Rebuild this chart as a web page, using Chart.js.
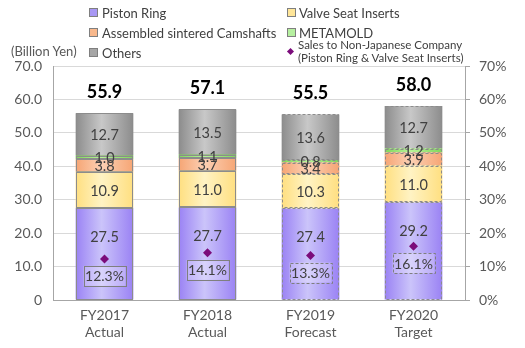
<!DOCTYPE html>
<html>
<head>
<meta charset="utf-8">
<script src="https://cdn.jsdelivr.net/npm/chart.js@4"></script>
<style>
  body { margin: 0; background: #fff; }
  #wrap { position: relative; width: 525px; height: 348px; font-family: Lato, "Open Sans", sans-serif; color: #404040; }
  #wrap canvas { position: absolute; left: 0; top: 0; }
  .lg { position: absolute; font-size: 13px; white-space: nowrap; line-height: 18px; }
  .sq { position: absolute; width: 7px; height: 7px; border: 1px solid #7f7f7f; }
  .unit { position: absolute; left: 11px; top: 43px; font-size: 13px; color: #595959; }
  .small { position: absolute; font-size: 11.5px; line-height: 13px; white-space: nowrap; }
</style>
</head>
<body>
<div id="wrap">
  <canvas id="chart" width="525" height="348"></canvas>
  <div class="unit">(Billion Yen)</div>

  <div class="sq" style="left:89px; top:8px; background:#a898f4;"></div>
  <div class="lg" style="left:102px; top:4px;">Piston Ring</div>
  <div class="sq" style="left:89px; top:28px; background:#f8b88c;"></div>
  <div class="lg" style="left:102px; top:24px;">Assembled sintered Camshafts</div>
  <div class="sq" style="left:89px; top:48px; background:#a6a6a6;"></div>
  <div class="lg" style="left:102px; top:44px;">Others</div>

  <div class="sq" style="left:287px; top:8px; background:#ffe699;"></div>
  <div class="lg" style="left:299px; top:4px;">Valve Seat Inserts</div>
  <div class="sq" style="left:287px; top:28px; background:#b6f0a0;"></div>
  <div class="lg" style="left:299px; top:24px;">METAMOLD</div>
  <div style="position:absolute; left:288px; top:49px; width:5px; height:5px; background:#7b0c7b; transform:rotate(45deg);"></div>
  <div class="small" style="left:298px; top:38px;">Sales to Non-Japanese Company<br>(Piston Ring &amp; Valve Seat Inserts)</div>
</div>

<script>
'use strict';

// ---- data ----
const categories = [['FY2017', 'Actual'], ['FY2018', 'Actual'], ['FY2019', 'Forecast'], ['FY2020', 'Target']];
const pistonRing   = [27.5, 27.7, 27.4, 29.2];
const valveSeat    = [10.9, 11.0, 10.3, 11.0];
const camshafts    = [3.8, 3.7, 3.4, 3.9];
const metamold     = [1.0, 1.1, 0.8, 1.2];
const others       = [12.7, 13.5, 13.6, 12.7];
const totals       = [55.9, 57.1, 55.5, 58.0];
const overseasPct  = [12.3, 14.1, 13.3, 16.1];
const dashedFrom = 2; // forecast / target drawn with dashed outlines

const BAR_PCT = 0.56;
const FONT = 'Lato, "Open Sans", sans-serif';

// horizontal "cylinder" gradient for each bar
function barGrad(edge, mid) {
  return (ctx) => {
    const chart = ctx.chart;
    if (ctx.dataIndex === undefined || !chart.chartArea) return edge;
    const xs = chart.scales.x;
    const cx = xs.getPixelForValue(ctx.dataIndex);
    const w = xs.width / categories.length * BAR_PCT;
    const g = chart.ctx.createLinearGradient(cx - w / 2, 0, cx + w / 2, 0);
    g.addColorStop(0, edge);
    g.addColorStop(0.45, mid);
    g.addColorStop(1, edge);
    return g;
  };
}

function barSet(label, data, edge, mid) {
  return {
    type: 'bar', label, data,
    backgroundColor: barGrad(edge, mid),
    borderWidth: 0,
    barPercentage: BAR_PCT,
    categoryPercentage: 1,
    stack: 'sales',
    yAxisID: 'y',
    order: 1,
  };
}

// outlines + segment values, totals and percentage boxes
const labelPlugin = {
  id: 'labels',
  afterDatasetDraw(chart, args) {
    const meta = args.meta;
    if (meta.type !== 'bar') return;
    const c = chart.ctx;
    c.save();
    c.strokeStyle = '#8c8c8c';
    c.lineWidth = 1;
    meta.data.forEach((el, i) => {
      const p = el.getProps(['x', 'y', 'base', 'width'], true);
      c.setLineDash(i >= dashedFrom ? [3, 2] : []);
      const x0 = Math.round(p.x - p.width / 2) + 0.5;
      const x1 = Math.round(p.x + p.width / 2) - 0.5;
      const y0 = Math.round(p.y) + 0.5;
      const y1 = Math.round(p.base) - 0.5;
      c.strokeRect(x0, y0, x1 - x0, y1 - y0);
    });
    c.restore();
  },
  afterDatasetsDraw(chart) {
    const c = chart.ctx;
    c.save();
    c.textAlign = 'center';
    c.textBaseline = 'middle';
    // segment values (piston ring sits near the top of its segment)
    c.font = '14.5px ' + FONT;
    c.fillStyle = '#404040';
    chart.data.datasets.forEach((ds, di) => {
      if (ds.type !== 'bar') return;
      const meta = chart.getDatasetMeta(di);
      meta.data.forEach((el, i) => {
        const p = el.getProps(['x', 'y', 'base'], true);
        const ty = di === 0 ? p.y + 29 : (p.y + p.base) / 2 + 1;
        c.fillText(ds.data[i].toFixed(1), p.x, ty);
      });
    });
    // totals above each bar
    const y = chart.scales.y;
    const xs = chart.scales.x;
    c.font = 'bold 18px ' + FONT;
    c.fillStyle = '#000';
    totals.forEach((t, i) => {
      const top = y.getPixelForValue(t);
      c.fillText(t.toFixed(1), xs.getPixelForValue(i), top - 21);
    });
    // percentage boxes under the diamonds
    const y2 = chart.scales.y2;
    c.font = '14px ' + FONT;
    overseasPct.forEach((v, i) => {
      const cx = xs.getPixelForValue(i);
      const cy = y2.getPixelForValue(v) + 17;
      const bw = 42, bh = 20;
      c.fillStyle = 'rgba(255,255,255,0.25)';
      c.fillRect(cx - bw / 2, cy - bh / 2, bw, bh);
      c.strokeStyle = '#7f7f7f';
      c.lineWidth = 1;
      c.setLineDash(i >= dashedFrom ? [3, 2] : []);
      c.strokeRect(Math.round(cx - bw / 2) + 0.5, Math.round(cy - bh / 2) + 0.5, bw, bh);
      c.fillStyle = '#404040';
      c.fillText(v.toFixed(1) + '%', cx, cy + 1);
    });
    c.restore();
  }
};

new Chart(document.getElementById('chart'), {
  data: {
    labels: categories,
    datasets: [
      barSet('Piston Ring', pistonRing, '#9a82f4', '#cbc4fa'),
      barSet('Valve Seat Inserts', valveSeat, '#ffdf80', '#fff3c4'),
      barSet('Assembled sintered Camshafts', camshafts, '#f6a574', '#fbd0b4'),
      barSet('METAMOLD', metamold, '#7fd65a', '#b8f598'),
      barSet('Others', others, '#8c8c8c', '#c8c8c8'),
      {
        type: 'line',
        label: 'Sales to Non-Japanese Company',
        data: overseasPct,
        yAxisID: 'y2',
        showLine: false,
        pointStyle: 'rectRot',
        pointRadius: 4.5,
        pointBackgroundColor: '#7b0c7b',
        pointBorderWidth: 0,
        order: 0,
      },
    ],
  },
  options: {
    responsive: false,
    animation: false,
    layout: { padding: { top: 66, left: 0, right: 0, bottom: 0 } },
    plugins: { legend: { display: false }, tooltip: { enabled: false } },
    scales: {
      x: {
        stacked: true,
        grid: { display: false },
        border: { color: '#a6a6a6' },
        ticks: { color: '#595959', font: { size: 14, family: FONT, lineHeight: 1.2 }, padding: -1, maxRotation: 0 },
        afterFit: (s) => { s.height = 48; },
      },
      y: {
        stacked: true,
        min: 0, max: 70,
        ticks: {
          stepSize: 10,
          color: '#595959',
          font: { size: 14, family: FONT },
          padding: 11,
          callback: (v) => v === 0 ? '0' : v.toFixed(1),
        },
        grid: { color: '#d9d9d9', drawTicks: false },
        border: { color: '#a6a6a6' },
        afterFit: (s) => { s.width = 53; },
      },
      y2: {
        position: 'right',
        min: 0, max: 70,
        ticks: {
          stepSize: 10,
          color: '#595959',
          font: { size: 14, family: FONT },
          padding: 9,
          callback: (v) => v + '%',
        },
        grid: { drawOnChartArea: false, color: '#a6a6a6', tickLength: 5 },
        border: { color: '#a6a6a6' },
        afterFit: (s) => { s.width = 60; },
      },
    },
  },
  plugins: [labelPlugin],
});
</script>
</body>
</html>
